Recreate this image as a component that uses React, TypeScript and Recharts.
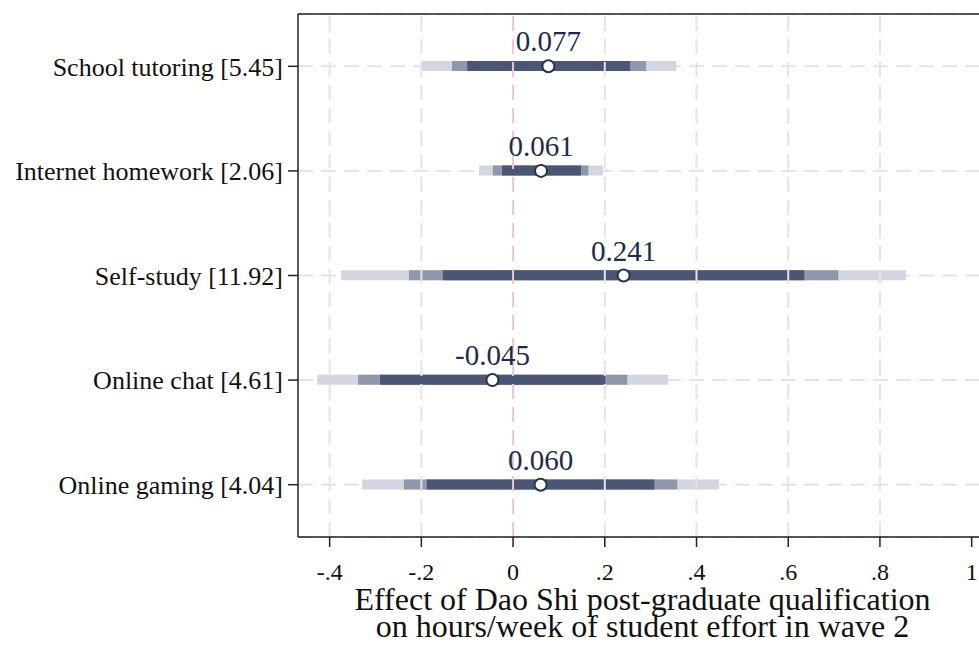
import React from 'react';
import {
    ComposedChart,
    Bar,
    Line,
    XAxis,
    YAxis,
    CartesianGrid,
    ReferenceLine,
    LabelList,
} from 'recharts';

// outcome categories (mean hours in brackets)
const categories = [
    'School tutoring [5.45]',
    'Internet homework [2.06]',
    'Self-study [11.92]',
    'Online chat [4.61]',
    'Online gaming [4.04]',
];

// point estimates
const estimates = [0.077, 0.061, 0.241, -0.045, 0.06];

// confidence intervals, widest (light) to narrowest (dark)
const ci99Low = [-0.201, -0.074, -0.375, -0.427, -0.329];
const ci99High = [0.356, 0.196, 0.857, 0.338, 0.449];
const ci95Low = [-0.133, -0.044, -0.227, -0.338, -0.238];
const ci95High = [0.29, 0.164, 0.709, 0.249, 0.358];
const ci90Low = [-0.1, -0.024, -0.153, -0.29, -0.188];
const ci90High = [0.255, 0.148, 0.635, 0.201, 0.308];

const xTicks = [-0.4, -0.2, 0, 0.2, 0.4, 0.6, 0.8, 1];
const gridTicks = [-0.4, -0.2, 0.2, 0.4, 0.6, 0.8];
const xDomain = [-0.469, 1.016];

const data = categories.map((name, i) => ({
    name,
    est: estimates[i],
    ci99: [ci99Low[i], ci99High[i]],
    ci95: [ci95Low[i], ci95High[i]],
    ci90: [ci90Low[i], ci90High[i]],
}));

const serif = '"Liberation Serif", "Times New Roman", serif';
const axisColor = '#222';

const fmtTick = (v: number) => String(v).replace('0.', '.');

const XTick = (props: any) => {
    const { x, y, payload } = props;
    return (
        <text x={x} y={y + 17} textAnchor="middle" fontFamily={serif} fontSize={24} fill="#111">
            {fmtTick(payload.value)}
        </text>
    );
};

const AxisTitle = (props: any) => {
    const { viewBox } = props;
    if (!viewBox) return null;
    const cx = viewBox.x + viewBox.width / 2 + 4;
    return (
        <text x={cx} textAnchor="middle" fontFamily={serif} fontSize={32} fill="#111">
            <tspan x={cx} y={viewBox.y + 73}>Effect of Dao Shi post-graduate qualification</tspan>
            <tspan x={cx} y={viewBox.y + 100}>on hours/week of student effort in wave 2</tspan>
        </text>
    );
};

export default function App() {
    return (
        <div
            style={{
                position: 'absolute',
                left: 0,
                top: 0,
                width: 979,
                height: 645,
                background: '#fff',
                fontFamily: serif,
            }}
        >
            <ComposedChart
                width={979}
                height={645}
                data={data}
                layout="vertical"
                margin={{ top: 13, right: 0, bottom: 0, left: 0 }}
                barGap={-10}
            >
                <CartesianGrid vertical={false} stroke="#e4e4e4" strokeWidth={2} strokeDasharray="15 8" />
                {gridTicks.map((t) => (
                    <ReferenceLine
                        key={t}
                        x={t}
                        stroke="#e4e4e4"
                        strokeWidth={2}
                        strokeDasharray="15 8"
                    />
                ))}
                <ReferenceLine x={0} stroke="#f1c6cf" strokeWidth={2} strokeDasharray="15 8" />

                <XAxis
                    type="number"
                    domain={xDomain}
                    allowDataOverflow
                    ticks={xTicks}
                    height={108}
                    tickSize={10}
                    tickMargin={16}
                    axisLine={{ stroke: axisColor, strokeWidth: 1.5 }}
                    tickLine={{ stroke: axisColor, strokeWidth: 1.5 }}
                    tick={<XTick />}
                    label={<AxisTitle />}
                />
                {/* top frame line */}
                <XAxis
                    xAxisId="top"
                    orientation="top"
                    type="number"
                    domain={xDomain}
                    allowDataOverflow
                    height={1}
                    tick={false}
                    tickLine={false}
                    axisLine={{ stroke: axisColor, strokeWidth: 1.5 }}
                />
                <YAxis
                    type="category"
                    dataKey="name"
                    width={298}
                    tickSize={10}
                    tickMargin={5}
                    axisLine={{ stroke: axisColor, strokeWidth: 1.5 }}
                    tickLine={{ stroke: axisColor, strokeWidth: 1.5 }}
                    tick={{ fill: '#111', fontSize: 26, fontFamily: serif }}
                />

                <Bar dataKey="ci99" barSize={10} fill="#d3d6e0" isAnimationActive={false} />
                <Bar dataKey="ci95" barSize={10} fill="#9197aa" isAnimationActive={false} />
                <Bar dataKey="ci90" barSize={10} fill="#4b5675" isAnimationActive={false} />

                <Line
                    xAxisId="top"
                    dataKey="est"
                    stroke="none"
                    dot={{ r: 6, fill: '#fff', stroke: '#26324f', strokeWidth: 2 }}
                    activeDot={false}
                    isAnimationActive={false}
                >
                    <LabelList
                        dataKey="est"
                        position="top"
                        offset={15}
                        formatter={(v: any) => Number(v).toFixed(3)}
                        fill="#1f2b4d"
                        fontSize={29}
                        fontFamily={serif}
                    />
                </Line>
            </ComposedChart>
        </div>
    );
}
